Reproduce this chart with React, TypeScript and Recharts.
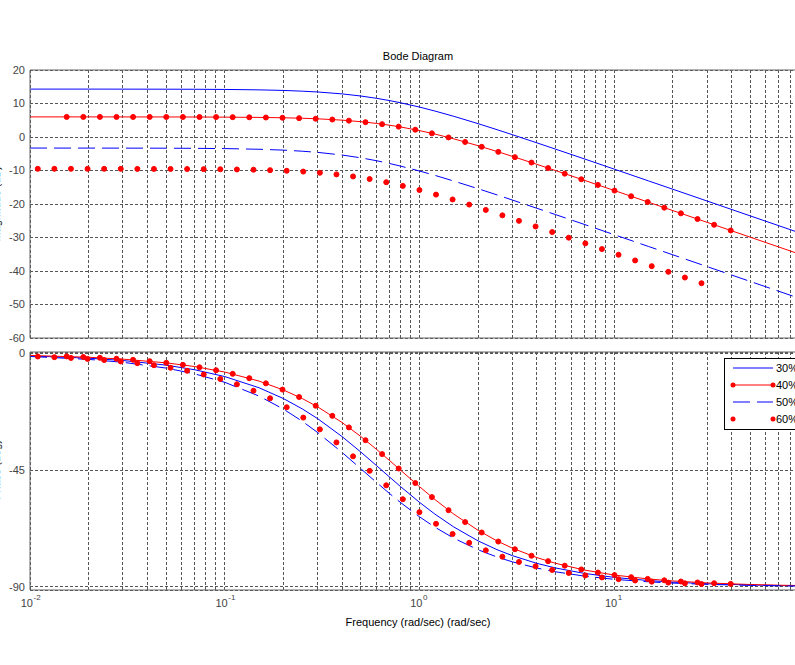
import React from 'react';
import { LineChart, Line, XAxis, YAxis, CartesianGrid, ReferenceLine } from 'recharts';

// ---------- data ----------
const FREQ = [0.01, 0.02, 0.03, 0.05, 0.07, 0.1, 0.15, 0.2, 0.25, 0.3, 0.4, 0.5, 0.6, 0.7, 0.8, 1, 1.2, 1.5, 2, 2.5, 3, 4, 5, 7, 10, 15, 20, 30, 50, 70, 100];

const MAG_30 = [14.3, 14.3, 14.29, 14.27, 14.25, 14.2, 14.07, 13.9, 13.68, 13.44, 12.87, 12.23, 11.56, 10.88, 10.21, 8.93, 7.75, 6.18, 3.98, 2.19, 0.69, -1.73, -3.63, -6.51, -9.59, -13.11, -15.6, -19.12, -23.56, -26.48, -29.58];
const PH_30 = [-0.9, -1.79, -2.68, -4.47, -6.24, -8.88, -13.19, -17.35, -21.34, -25.11, -32.01, -38.0, -43.15, -47.56, -51.34, -57.38, -61.93, -66.89, -72.26, -75.64, -77.96, -80.91, -82.71, -84.78, -86.34, -87.56, -88.17, -88.78, -89.27, -89.48, -89.63];

const MAG_40 = [6.0, 6.0, 5.99, 5.98, 5.97, 5.93, 5.85, 5.74, 5.6, 5.43, 5.03, 4.57, 4.06, 3.53, 2.99, 1.91, 0.88, -0.55, -2.6, -4.32, -5.78, -8.15, -10.03, -12.9, -15.97, -19.47, -21.97, -25.48, -29.92, -32.84, -35.94];
const PH_40 = [-0.72, -1.43, -2.15, -3.58, -5.0, -7.13, -10.62, -14.04, -17.35, -20.56, -26.57, -32.01, -36.87, -41.19, -45.0, -51.34, -56.31, -61.93, -68.2, -72.26, -75.07, -78.69, -80.91, -83.48, -85.43, -86.95, -87.71, -88.47, -89.08, -89.35, -89.54];

const MAG_50 = [-3.3, -3.31, -3.32, -3.34, -3.38, -3.46, -3.66, -3.92, -4.24, -4.59, -5.38, -6.22, -7.07, -7.9, -8.69, -10.15, -11.45, -13.15, -15.44, -17.28, -18.82, -21.26, -23.17, -26.07, -29.16, -32.68, -35.17, -38.69, -43.13, -46.05, -49.15];
const PH_50 = [-1.12, -2.25, -3.37, -5.6, -7.82, -11.09, -16.39, -21.41, -26.11, -30.47, -38.11, -44.43, -49.64, -53.92, -57.48, -62.98, -66.97, -71.22, -75.69, -78.47, -80.35, -82.73, -84.18, -85.83, -87.08, -88.05, -88.54, -89.03, -89.42, -89.58, -89.71];

// marker frequencies / values
const FREQ_40_MARK = [0.01543, 0.01878, 0.02285, 0.0278, 0.03383, 0.04117, 0.0501, 0.06096, 0.07418, 0.09027, 0.10985, 0.13366, 0.16265, 0.19793, 0.24085, 0.29309, 0.35665, 0.43401, 0.52812, 0.64269, 0.78199, 0.9515, 1.1581, 1.4091, 1.7149, 2.0865, 2.5388, 3.0897, 3.7595, 4.5753, 5.5681, 6.7737, 8.2443, 10.03, 12.21, 14.85, 18.07, 21.99, 26.76, 32.57, 39.63];
const MAG_40_MARK = [6.0, 6.0, 6.0, 5.99, 5.99, 5.99, 5.98, 5.97, 5.96, 5.95, 5.92, 5.88, 5.82, 5.74, 5.62, 5.45, 5.21, 4.88, 4.43, 3.84, 3.09, 2.17, 1.09, -0.13, -1.48, -2.92, -4.44, -6.02, -7.63, -9.28, -10.94, -12.62, -14.3, -15.99, -17.69, -19.39, -21.09, -22.79, -24.49, -26.2, -27.9];
const PH_40_MARK = [-1.1, -1.34, -1.64, -1.99, -2.42, -2.95, -3.58, -4.36, -5.3, -6.44, -7.82, -9.49, -11.49, -13.9, -16.76, -20.12, -24.03, -28.48, -33.43, -38.78, -44.35, -49.94, -55.37, -60.41, -64.99, -69.02, -72.51, -75.48, -77.99, -80.08, -81.82, -83.26, -84.46, -85.44, -86.25, -86.92, -87.46, -87.92, -88.29, -88.59, -88.84];

const FREQ_60_MARK = [0.010965, 0.013341, 0.016234, 0.019751, 0.024032, 0.029242, 0.03558, 0.043292, 0.052675, 0.064093, 0.077983, 0.094888, 0.11545, 0.14048, 0.17093, 0.20797, 0.25305, 0.3079, 0.37463, 0.45583, 0.55463, 0.67485, 0.82111, 0.99908, 1.2157, 1.4791, 1.7998, 2.1899, 2.6646, 3.2421, 3.9446, 4.7996, 5.84, 7.1058, 8.6458, 10.52, 12.8, 15.574, 18.95, 23.057, 28.054];
const MAG_60_MARK = [-9.5, -9.5, -9.5, -9.51, -9.51, -9.51, -9.52, -9.53, -9.54, -9.56, -9.59, -9.63, -9.69, -9.77, -9.9, -10.08, -10.33, -10.68, -11.16, -11.77, -12.55, -13.49, -14.59, -15.83, -17.2, -18.65, -20.18, -21.77, -23.39, -25.03, -26.7, -28.37, -30.06, -31.75, -33.45, -35.15, -36.85, -38.55, -40.25, -41.95, -43.65];
const PH_60_MARK = [-1.14, -1.39, -1.69, -2.06, -2.5, -3.04, -3.7, -4.5, -5.47, -6.65, -8.07, -9.79, -11.86, -14.33, -17.26, -20.71, -24.71, -29.24, -34.26, -39.65, -45.24, -50.82, -56.19, -61.17, -65.66, -69.6, -73.01, -75.9, -78.34, -80.37, -82.06, -83.46, -84.62, -85.57, -86.36, -87.01, -87.54, -87.98, -88.34, -88.63, -88.88];

const SERIES_NAMES = ['30%', '40%', '50%', '60%'];
const MAG_TICKS = [-60, -50, -40, -30, -20, -10, 0, 10, 20];
const PHASE_TICKS = [-90, -45, 0];
const DECADES = [0.01, 0.1, 1, 10];
const MANTISSAS = [1, 2, 3, 4, 5, 6, 7, 8, 9];
const DECADE_EXP: Record<string, string> = { '0.01': '-2', '0.1': '-1', '1': '0', '10': '1' };

const TITLE = 'Bode Diagram';
const X_LABEL = 'Frequency (rad/sec)  (rad/sec)';
const MAG_LABEL = 'Magnitude (dB)';
const PHASE_LABEL = 'Phase (deg)';

// ---------- derived tables ----------
const zip = (fs: number[], vs: number[]) => fs.map((f, i) => ({ f, v: vs[i] }));
const GRID_X: number[] = [];
DECADES.forEach((d) => MANTISSAS.forEach((m) => GRID_X.push(d * m)));
GRID_X.push(100);

const m30 = zip(FREQ, MAG_30);
const m40 = zip(FREQ, MAG_40);
const m50 = zip(FREQ, MAG_50);
const m40k = zip(FREQ_40_MARK, MAG_40_MARK);
const m60k = zip(FREQ_60_MARK, MAG_60_MARK);
const p30 = zip(FREQ, PH_30);
const p40 = zip(FREQ, PH_40);
const p50 = zip(FREQ, PH_50);
const p40k = zip(FREQ_40_MARK, PH_40_MARK);
const p60k = zip(FREQ_60_MARK, PH_60_MARK);

// ---------- styles ----------
const FONT = '"Liberation Sans", Arial, Helvetica, sans-serif';
const BLUE = '#0000ff';
const RED = '#ff0000';
const AXIS = '#666666';
const GRID = '#555555';
const GRID_DASH = '3 2';
const DASH = '17 7';
const CHART_W = 820;
const MARGIN_R = 11;

const tickStyle = { fontSize: 11, fill: '#444', fontFamily: FONT };
const markerDot = { r: 2.5, fill: RED, stroke: RED, strokeWidth: 1 };

function FreqTick(props: any) {
  const { x, y, payload } = props;
  const e = DECADE_EXP[String(payload.value)];
  if (e === undefined) return <g />;
  return (
    <g>
      <text x={x + 3} y={y + 17} textAnchor="end" fontSize={11} fill="#444" fontFamily={FONT}>10</text>
      <text x={x + 3.5} y={y + 10} textAnchor="start" fontSize={8} fill="#444" fontFamily={FONT}>{e}</text>
    </g>
  );
}

function EmptyTick() {
  return <g />;
}

function TopChart() {
  return (
    <LineChart width={CHART_W} height={345} margin={{ top: 70, right: MARGIN_R, bottom: 6, left: 0 }}>
      <CartesianGrid stroke={GRID} strokeDasharray={GRID_DASH} shapeRendering="crispEdges" />
      <XAxis dataKey="f" type="number" scale="log" domain={[0.01, 100]} allowDataOverflow ticks={GRID_X}
        tick={<EmptyTick />} tickSize={0} tickMargin={0} tickLine={false} height={1} interval={0}
        axisLine={{ stroke: AXIS }} />
      <YAxis type="number" domain={[-60, 20]} ticks={MAG_TICKS} allowDataOverflow width={30}
        tickSize={0} tickMargin={5} tickLine={false} axisLine={{ stroke: AXIS }} tick={tickStyle} interval={0} />
      <ReferenceLine y={20} stroke={AXIS} />
      <Line data={m30} dataKey="v" stroke={BLUE} strokeWidth={1} dot={false} activeDot={false} isAnimationActive={false} />
      <Line data={m40} dataKey="v" stroke={RED} strokeWidth={1} dot={false} activeDot={false} isAnimationActive={false} />
      <Line data={m40k} dataKey="v" stroke="none" dot={markerDot} activeDot={false} isAnimationActive={false} />
      <Line data={m50} dataKey="v" stroke={BLUE} strokeWidth={1} strokeDasharray={DASH} dot={false} activeDot={false} isAnimationActive={false} />
      <Line data={m60k} dataKey="v" stroke="none" dot={markerDot} activeDot={false} isAnimationActive={false} />
    </LineChart>
  );
}

function BottomChart() {
  return (
    <LineChart width={CHART_W} height={310} margin={{ top: 12, right: MARGIN_R, bottom: 10, left: 0 }}>
      <CartesianGrid stroke={GRID} strokeDasharray={GRID_DASH} shapeRendering="crispEdges" />
      <XAxis dataKey="f" type="number" scale="log" domain={[0.01, 100]} allowDataOverflow ticks={GRID_X}
        tick={<FreqTick />} tickSize={0} tickMargin={0} tickLine={false} height={50} interval={0}
        axisLine={{ stroke: AXIS }} />
      <YAxis type="number" domain={[-91.2, 0.6]} ticks={PHASE_TICKS} allowDataOverflow width={30}
        tickSize={0} tickMargin={5} tickLine={false} axisLine={{ stroke: AXIS }} tick={tickStyle} interval={0} />
      <ReferenceLine y={0.6} stroke={AXIS} />
      <Line data={p30} dataKey="v" stroke={BLUE} strokeWidth={1} dot={false} activeDot={false} isAnimationActive={false} />
      <Line data={p40} dataKey="v" stroke={RED} strokeWidth={1} dot={false} activeDot={false} isAnimationActive={false} />
      <Line data={p40k} dataKey="v" stroke="none" dot={markerDot} activeDot={false} isAnimationActive={false} />
      <Line data={p50} dataKey="v" stroke={BLUE} strokeWidth={1} strokeDasharray={DASH} dot={false} activeDot={false} isAnimationActive={false} />
      <Line data={p60k} dataKey="v" stroke="none" dot={markerDot} activeDot={false} isAnimationActive={false} />
    </LineChart>
  );
}

function Overlay() {
  const lx = 724;
  const ly = 358;
  const rowY = (i: number) => ly + 10 + i * 17;
  return (
    <svg width={795} height={665} style={{ position: 'absolute', left: 0, top: 0, pointerEvents: 'none' }}>
      <text x={418} y={60} textAnchor="middle" fontSize={11} fill="#000" fontFamily={FONT}>{TITLE}</text>
      <text x={0} y={204} textAnchor="middle" fontSize={11} fill="#000" fontFamily={FONT} transform="rotate(-90 0 204)">{MAG_LABEL}</text>
      <text x={0} y={470} textAnchor="middle" fontSize={11} fill="#000" fontFamily={FONT} transform="rotate(-90 0 470)">{PHASE_LABEL}</text>
      <text x={418} y={626} textAnchor="middle" fontSize={11} fill="#000" fontFamily={FONT}>{X_LABEL}</text>
      <rect x={lx + 0.5} y={ly + 0.5} width={100} height={71} fill="#fff" stroke="#000" strokeWidth={1} />
      {SERIES_NAMES.map((name, i) => {
        const y = rowY(i);
        const isRed = i % 2 === 1;
        const color = isRed ? RED : BLUE;
        return (
          <g key={name}>
            {i !== 3 && (
              <line x1={733} x2={773} y1={y} y2={y} stroke={color} strokeWidth={1} strokeDasharray={i === 2 ? DASH : undefined} />
            )}
            {isRed && <circle cx={733} cy={y} r={2.5} fill={RED} />}
            {isRed && <circle cx={773} cy={y} r={2.5} fill={RED} />}
            <text x={776} y={y + 4} fontSize={11} fill="#000" fontFamily={FONT}>{name}</text>
          </g>
        );
      })}
    </svg>
  );
}

export default function App() {
  return (
    <div style={{ position: 'fixed', left: 0, top: 0, width: 795, height: 665, overflow: 'hidden', background: '#fff' }}>
      <div style={{ position: 'absolute', left: 0, top: 0 }}>
        <TopChart />
      </div>
      <div style={{ position: 'absolute', left: 0, top: 340 }}>
        <BottomChart />
      </div>
      <Overlay />
    </div>
  );
}
